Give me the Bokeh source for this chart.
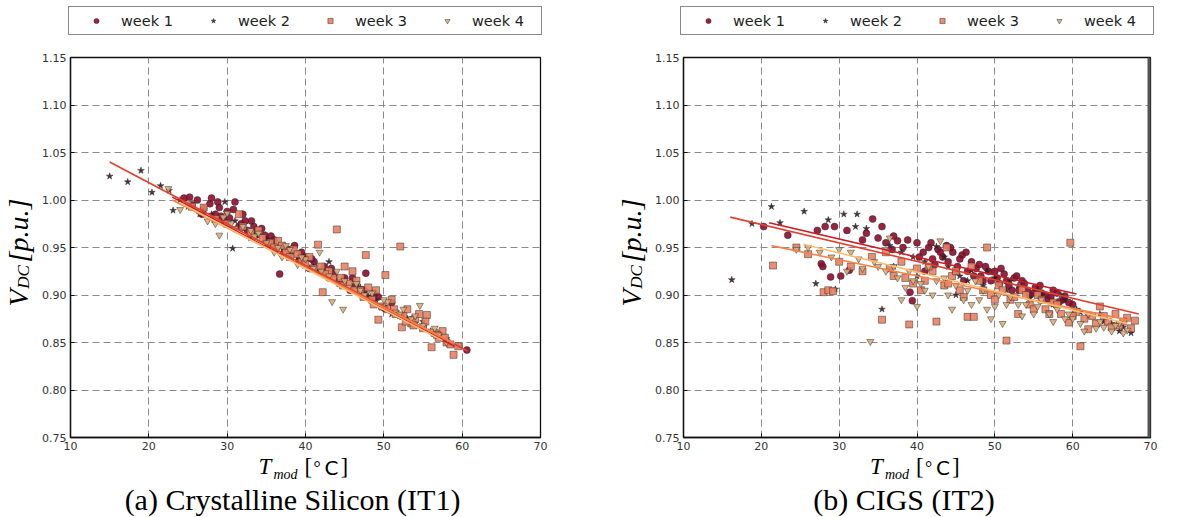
from math import pi

from bokeh.core.properties import value
from bokeh.embed import file_html
from bokeh.layouts import column, row
from bokeh.models import (FixedTicker, Legend, LegendItem, PrintfTickFormatter,
                          Range1d, Span)
from bokeh.plotting import figure
from bokeh.resources import INLINE

weeks = ["week 1", "week 2", "week 3", "week 4"]
x_ticks = [10, 20, 30, 40, 50, 60, 70]
y_ticks = [0.75, 0.80, 0.85, 0.90, 0.95, 1.00, 1.05, 1.10, 1.15]
captions = ["(a) Crystalline Silicon (IT1)", "(b) CIGS (IT2)"]

# (a) crystalline silicon, T_mod [C] and V_DC [p.u.] per week
si_w1_t = [24.5, 25.5, 26.2, 27.0, 27.8, 28.0, 28.5, 29.0, 29.6, 30.3, 30.8, 31.0, 31.5, 32.0, 32.6, 33.1,
           33.8, 34.4, 35.0, 35.6, 36.2, 36.7, 37.3, 38.0, 38.6, 39.2, 39.9, 40.5, 41.1, 41.8, 42.4, 43.0,
           43.6, 44.3, 45.0, 45.7, 46.4, 47.2, 47.7, 48.5, 49.3, 50.1, 51.0, 52.2, 53.5, 55.0, 56.4, 60.6,
           26.8, 28.8, 30.0, 31.8, 33.4, 34.8, 36.0, 37.8, 39.5, 40.8, 42.0, 43.3, 44.8, 46.0, 47.5, 48.8,
           25.2, 29.2, 32.3, 35.3]
si_w1_v = [1.002, 0.995, 1.000, 0.991, 0.996, 1.002, 0.985, 0.992, 0.978, 0.981, 0.990, 0.998, 0.972, 0.985,
           0.968, 0.978, 0.965, 0.970, 0.958, 0.962, 0.948, 0.922, 0.950, 0.944, 0.952, 0.936, 0.940, 0.928,
           0.935, 0.924, 0.930, 0.918, 0.922, 0.912, 0.918, 0.905, 0.910, 0.900, 0.923, 0.895, 0.898, 0.886,
           0.892, 0.878, 0.874, 0.866, 0.860, 0.842,
           0.985, 0.998, 0.988, 0.975, 0.972, 0.963, 0.958, 0.948, 0.945, 0.938, 0.925, 0.928, 0.915, 0.918,
           0.905, 0.902, 1.003, 0.983, 0.978, 0.952]
si_w2_t = [15.0, 17.3, 19.0, 20.4, 21.5, 22.6, 23.1, 24.0, 25.0, 26.5, 28.0, 29.7, 30.7, 32.0, 33.0, 34.0,
           36.0, 37.0, 38.0, 40.0, 42.0, 43.0, 44.0, 46.0, 47.0, 48.0, 50.0, 51.0, 52.0, 54.0, 55.0, 56.0,
           58.0, 59.5, 27.0, 31.0, 35.0, 39.0, 41.0, 45.0, 49.0, 53.0, 57.0]
si_w2_v = [1.025, 1.019, 1.031, 1.008, 1.015, 1.010, 0.989, 1.000, 0.993, 0.985, 0.985, 0.998, 0.949, 0.970,
           0.960, 0.962, 0.951, 0.945, 0.942, 0.935, 0.925, 0.935, 0.915, 0.906, 0.908, 0.899, 0.888, 0.880,
           0.878, 0.870, 0.872, 0.862, 0.854, 0.846, 0.990, 0.978, 0.958, 0.940, 0.930, 0.912, 0.895, 0.875,
           0.858]
si_w3_t = [25.5, 27.0, 28.5, 30.0, 31.5, 33.0, 34.5, 35.5, 36.5, 37.5, 38.5, 39.5, 40.5, 41.6, 42.0, 42.2,
           43.0, 44.0, 44.5, 45.0, 45.5, 46.0, 46.5, 47.0, 47.7, 48.0, 48.5, 49.0, 49.3, 50.2, 50.5, 51.0,
           51.5, 52.1, 52.3, 52.5, 53.0, 53.5, 54.0, 54.5, 55.0, 55.5, 56.1, 56.5, 57.0, 57.5, 58.0, 58.9, 59.5,
           32.0, 34.0, 36.0, 37.0, 38.0, 39.0, 40.0, 41.0, 42.5, 43.5, 44.8, 46.2, 47.4, 48.7, 49.8, 51.3,
           52.8, 53.8, 55.3, 56.8, 57.8, 58.5]
si_w3_v = [0.993, 0.992, 0.980, 0.975, 0.985, 0.965, 0.960, 0.955, 0.957, 0.945, 0.948, 0.935, 0.940, 0.953,
           0.930, 0.903, 0.925, 0.969, 0.918, 0.930, 0.912, 0.925, 0.915, 0.905, 0.942, 0.908, 0.895, 0.905,
           0.874, 0.921, 0.885, 0.895, 0.880, 0.951, 0.866, 0.878, 0.885, 0.870, 0.875, 0.880, 0.865, 0.879,
           0.845, 0.860, 0.855, 0.862, 0.850, 0.837, 0.846,
           0.972, 0.968, 0.950, 0.952, 0.940, 0.943, 0.932, 0.928, 0.922, 0.918, 0.910, 0.905, 0.898, 0.890,
           0.888, 0.885, 0.872, 0.868, 0.872, 0.858, 0.855, 0.848]
si_w4_t = [22.5, 24.0, 25.0, 26.5, 27.5, 28.5, 29.0, 29.5, 30.0, 31.0, 32.0, 33.5, 34.0, 35.0, 36.0, 37.0,
           37.5, 38.0, 39.0, 40.0, 41.0, 41.8, 43.0, 43.4, 44.0, 44.8, 45.5, 46.5, 47.5, 48.5, 49.5, 50.5,
           51.5, 52.5, 53.5, 54.6, 55.0, 56.0, 57.0, 58.0,
           30.5, 33.0, 36.5, 39.5, 42.0, 45.0, 47.0, 50.0, 52.0, 54.0, 56.5]
si_w4_v = [1.012, 0.990, 0.996, 0.988, 0.978, 0.975, 0.963, 0.982, 0.986, 0.970, 0.972, 0.962, 0.965, 0.955,
           0.945, 0.940, 0.952, 0.948, 0.932, 0.938, 0.928, 0.945, 0.920, 0.893, 0.925, 0.885, 0.908, 0.912,
           0.900, 0.902, 0.888, 0.893, 0.882, 0.885, 0.875, 0.889, 0.868, 0.862, 0.858, 0.850,
           0.975, 0.968, 0.950, 0.940, 0.925, 0.915, 0.905, 0.895, 0.880, 0.878, 0.865]
# fitted lines per week: start / end
si_fit_t0 = [23.0, 15.0, 23.0, 24.0]
si_fit_t1 = [59.0, 60.7, 59.0, 57.5]
si_fit_v0 = [1.003, 1.040, 1.000, 0.997]
si_fit_v1 = [0.846, 0.841, 0.849, 0.852]

# (b) CIGS
cigs_w1_t = [20.3, 23.4, 27.2, 27.7, 27.9, 28.2, 28.9, 29.4, 30.2, 31.0, 31.3, 33.0, 34.3, 35.0, 36.0, 36.8,
             37.5, 38.2, 39.1, 39.4, 40.0, 40.8, 41.0, 41.5, 42.0, 42.7, 43.3, 43.8, 44.0, 44.6, 45.2, 45.8,
             46.0, 46.5, 47.0, 47.6, 48.2, 48.8, 49.5, 50.0, 50.6, 51.2, 51.8, 52.5, 53.1, 53.8, 54.5, 55.2,
             56.0, 56.8, 57.5, 58.3, 59.0, 60.0,
             40.3, 41.8, 42.3, 43.0, 44.3, 45.0, 45.5, 46.3, 47.3, 48.0, 48.5, 49.2, 50.3, 50.8, 51.5, 52.2,
             52.8, 53.5, 54.2, 55.0, 55.8, 56.5, 57.2, 58.0, 58.8, 59.5, 33.5, 35.5, 37.0, 38.8]
cigs_w1_v = [0.972, 0.963, 0.968, 0.933, 0.930, 0.972, 0.919, 0.972, 0.920, 0.968, 0.926, 0.958, 0.980, 0.960,
             0.955, 0.948, 0.957, 0.950, 0.903, 0.894, 0.955, 0.945, 0.925, 0.950, 0.938, 0.948, 0.940, 0.952,
             0.935, 0.945, 0.930, 0.942, 0.915, 0.925, 0.935, 0.928, 0.920, 0.930, 0.915, 0.925, 0.912, 0.922,
             0.910, 0.918, 0.905, 0.912, 0.900, 0.908, 0.902, 0.896, 0.905, 0.893, 0.899, 0.890,
             0.940, 0.955, 0.932, 0.945, 0.950, 0.925, 0.938, 0.945, 0.920, 0.932, 0.915, 0.925, 0.918, 0.928,
             0.915, 0.905, 0.920, 0.915, 0.905, 0.902, 0.910, 0.900, 0.898, 0.902, 0.895, 0.892, 0.965, 0.972,
             0.962, 0.958]
cigs_w2_t = [16.2, 18.8, 21.3, 22.4, 25.5, 27.0, 28.6, 29.5, 30.6, 32.1, 32.3, 33.5, 35.5, 36.5, 37.0, 38.0,
             39.5, 41.0, 42.5, 44.0, 45.0, 45.5, 47.0, 48.5, 50.0, 51.5, 53.0, 54.5, 56.0, 57.5, 59.0, 60.5,
             62.0, 63.5, 65.0, 66.5, 67.5, 40.0, 43.5, 46.5, 49.0, 52.0, 55.5, 58.5, 61.0, 64.0, 66.0]
cigs_w2_v = [0.916, 0.975, 0.993, 0.976, 0.988, 0.912, 0.979, 0.906, 0.985, 0.972, 0.985, 0.970, 0.885, 0.952,
             0.930, 0.945, 0.940, 0.935, 0.951, 0.930, 0.900, 0.920, 0.926, 0.910, 0.918, 0.905, 0.910, 0.897,
             0.900, 0.890, 0.895, 0.885, 0.878, 0.880, 0.870, 0.866, 0.860, 0.920, 0.940, 0.915, 0.925, 0.915,
             0.905, 0.900, 0.882, 0.872, 0.862]
cigs_w3_t = [21.5, 24.5, 26.0, 28.0, 28.6, 29.2, 30.0, 31.5, 33.0, 34.2, 35.5, 36.0, 37.0, 38.0, 39.0, 39.5,
             40.0, 41.0, 42.0, 42.5, 43.5, 43.8, 44.5, 45.5, 46.5, 47.0, 47.3, 48.0, 49.0, 49.5, 50.5, 51.5,
             52.0, 53.0, 53.5, 54.5, 55.5, 56.5, 57.5, 58.5, 59.5, 59.7, 60.5, 61.0, 62.0, 62.5, 63.5, 64.5,
             65.5, 66.0, 67.0, 68.0,
             36.5, 38.5, 40.5, 41.5, 44.0, 45.0, 46.0, 48.5, 50.0, 51.0, 52.5, 54.0, 55.0, 56.0, 57.0, 58.0,
             60.0, 61.5, 63.0, 64.0, 65.0, 66.5, 67.5]
cigs_w3_v = [0.931, 0.950, 0.943, 0.903, 0.905, 0.904, 0.935, 0.930, 0.925, 0.940, 0.874, 0.945, 0.920, 0.935,
             0.869, 0.912, 0.928, 0.915, 0.925, 0.872, 0.910, 0.950, 0.920, 0.905, 0.877, 0.930, 0.877, 0.915,
             0.950, 0.900, 0.910, 0.852, 0.895, 0.880, 0.905, 0.890, 0.900, 0.885, 0.892, 0.880, 0.871, 0.955,
             0.882, 0.846, 0.864, 0.878, 0.888, 0.872, 0.880, 0.868, 0.876, 0.873,
             0.928, 0.918, 0.905, 0.930, 0.912, 0.925, 0.898, 0.905, 0.895, 0.905, 0.898, 0.900, 0.885, 0.895,
             0.880, 0.890, 0.878, 0.875, 0.870, 0.878, 0.866, 0.872, 0.865]
cigs_w4_t = [24.5, 26.0, 27.5, 29.0, 30.0, 31.0, 32.5, 33.0, 34.0, 35.0, 36.0, 36.5, 37.5, 38.0, 38.5, 39.0,
             40.0, 40.5, 41.5, 42.0, 43.0, 43.5, 44.5, 45.0, 46.0, 47.0, 47.5, 48.5, 49.5, 50.0, 50.5, 51.0,
             52.0, 53.0, 54.0, 55.0, 56.0, 57.0, 58.0, 59.0, 60.0, 61.0, 62.0, 63.0, 64.0, 65.0, 66.0, 67.0,
             31.5, 34.5, 37.0, 39.5, 41.0, 42.5, 44.0, 46.5, 48.0, 49.0, 51.5, 53.5, 55.5, 57.5, 59.5, 61.5,
             63.5, 65.5, 66.5]
cigs_w4_v = [0.948, 0.950, 0.945, 0.940, 0.948, 0.925, 0.938, 0.928, 0.851, 0.930, 0.925, 0.960, 0.918, 0.895,
             0.908, 0.925, 0.888, 0.912, 0.930, 0.900, 0.957, 0.918, 0.885, 0.910, 0.895, 0.890, 0.915, 0.905,
             0.875, 0.888, 0.900, 0.870, 0.898, 0.890, 0.890, 0.880, 0.895, 0.880, 0.885, 0.875, 0.875, 0.870,
             0.880, 0.865, 0.866, 0.862, 0.870, 0.863,
             0.945, 0.935, 0.930, 0.915, 0.905, 0.915, 0.900, 0.905, 0.895, 0.885, 0.890, 0.878, 0.888, 0.872,
             0.880, 0.862, 0.872, 0.868, 0.860]
cigs_fit_t0 = [21.0, 16.0, 21.3, 25.4]
cigs_fit_t1 = [60.5, 68.5, 67.5, 67.0]
cigs_fit_v0 = [0.976, 0.982, 0.952, 0.9535]
cigs_fit_v1 = [0.901, 0.880, 0.873, 0.870]

markers = ["circle", "star", "square", "inverted_triangle"]
fills = ["#8e0b2c", "#3a1c22", "#ea8160", "#dbad78"]
fit_colors = ["#c81d25", "#e3402f", "#f7834a", "#fdbf6f"]

SERIF = "Liberation Serif"
LEG_H = 49       # legend strip
MID_H = 406      # plot row
BOT_H = 62       # axis label + caption strip


def blank_fig(w, h, x_range=None, y_range=None):
    # pixel-coordinate canvas for the legend, the math labels and captions
    p = figure(width=w, height=h, title=None, output_backend="svg", toolbar_location=None,
               x_range=x_range or Range1d(0, w), y_range=y_range or Range1d(0, h),
               x_axis_type=None, y_axis_type=None, min_border=0,
               min_border_left=0, min_border_right=0, min_border_top=0, min_border_bottom=0)
    p.outline_line_color = None
    p.background_fill_color = "white"
    p.border_fill_color = "white"
    return p


def put(p, x, y, txt, size, style="italic", font=SERIF, angle=0.0, align="left"):
    p.text(x=[x], y=[y], text=[txt], angle=angle, text_font=value(font),
           text_font_style=style, text_font_size=size, text_color="black",
           text_align=align, text_baseline="alphabetic")


def legend_fig(w, ts, vs, legend_x):
    # the week markers are drawn here again only for the legend; the ranges keep them off screen
    p = blank_fig(w, LEG_H, x_range=Range1d(0, 1), y_range=Range1d(0, 0.1))
    rends = []
    for i in range(4):
        rends.append(p.scatter(ts[i], vs[i], marker=markers[i], size=7,
                               fill_color=fills[i], fill_alpha=0.9,
                               line_color="#2b2b2b", line_width=0.6, line_alpha=0.8))
    legend = Legend(items=[LegendItem(label=weeks[i], renderers=[rends[i]]) for i in range(4)],
                    orientation="horizontal", location=(legend_x, 14),
                    padding=5, spacing=6, margin=0,
                    glyph_width=44, glyph_height=13, label_width=64, label_height=17,
                    label_standoff=3, label_text_font="DejaVu Sans",
                    label_text_font_size="14.5px", label_text_color="#222222",
                    border_line_color="#111111", border_line_width=1.5,
                    background_fill_color="white", background_fill_alpha=1.0)
    p.add_layout(legend)
    return p


def ylabel_fig(w, base_x):
    p = blank_fig(w, MID_H)
    put(p, base_x - 7, 140, "V", "28px", angle=pi / 2)
    put(p, base_x - 2, 159, "DC", "17px", angle=pi / 2)
    put(p, base_x - 7, 187, "[p.u.]", "28px", angle=pi / 2)
    return p


def bottom_fig(w, c, caption):
    p = blank_fig(w, BOT_H)
    put(p, c - 47, 51, "T", "23px")
    put(p, c - 32, 43, "mod", "14px")
    put(p, c - 1, 51, "[", "23px", style="normal")
    put(p, c + 8, 50, "°", "18px", style="normal")
    put(p, c + 19, 50, "C", "20px", style="normal", font="DejaVu Sans")
    put(p, c + 35, 51, "]", "23px", style="normal")
    put(p, c - 13, 18, caption, "30px", style="normal", align="center")
    return p


def main_fig(ts, vs, fit_t0, fit_t1, fit_v0, fit_v1, w, left, right, thick_edge=False):
    p = figure(width=w, height=MID_H, title=None, output_backend="svg", toolbar_location=None,
               x_range=Range1d(10, 70), y_range=Range1d(0.75, 1.15),
               min_border_left=left, min_border_right=right,
               min_border_top=8, min_border_bottom=18)
    p.background_fill_color = "white"
    p.border_fill_color = "white"
    p.outline_line_color = "#111111"
    p.outline_line_width = 1.3

    for ax, ticks in ((p.xaxis[0], x_ticks), (p.yaxis[0], y_ticks)):
        ax.ticker = FixedTicker(ticks=ticks)
        ax.major_tick_in = 4
        ax.major_tick_out = 0
        ax.major_tick_line_color = "#111111"
        ax.minor_tick_line_color = None
        ax.axis_line_color = "#111111"
        ax.axis_line_width = 1.3
        ax.major_label_text_font = "DejaVu Sans"
        ax.major_label_text_font_size = "11px"
        ax.major_label_text_color = "#333333"
        ax.major_label_standoff = 4
    p.yaxis[0].formatter = PrintfTickFormatter(format="%.2f")

    p.grid.grid_line_color = "#8a8a8a"
    p.grid.grid_line_dash = "7 4"
    p.grid.grid_line_width = 1

    for i in range(4):
        p.scatter(ts[i], vs[i], marker=markers[i], size=7,
                  fill_color=fills[i], fill_alpha=0.9,
                  line_color="#2b2b2b", line_width=0.6, line_alpha=0.8)
    for i in range(4):
        p.line([fit_t0[i], fit_t1[i]], [fit_v0[i], fit_v1[i]],
               line_color=fit_colors[i], line_width=1.6)

    if thick_edge:
        p.add_layout(Span(location=70, dimension="height", line_color="#555555", line_width=6))
    return p


si_t = [si_w1_t, si_w2_t, si_w3_t, si_w4_t]
si_v = [si_w1_v, si_w2_v, si_w3_v, si_w4_v]
cigs_t = [cigs_w1_t, cigs_w2_t, cigs_w3_t, cigs_w4_t]
cigs_v = [cigs_w1_v, cigs_w2_v, cigs_w3_v, cigs_w4_v]

left_panel = column(
    legend_fig(588, si_t, si_v, 68),
    row(ylabel_fig(36, 25), main_fig(si_t, si_v, si_fit_t0, si_fit_t1, si_fit_v0, si_fit_v1, 552, 34, 48)),
    bottom_fig(588, 305, captions[0]))
right_panel = column(
    legend_fig(580, cigs_t, cigs_v, 92),
    row(ylabel_fig(60, 50), main_fig(cigs_t, cigs_v, cigs_fit_t0, cigs_fit_t1, cigs_fit_v0, cigs_fit_v1,
                                     520, 35, 18, thick_edge=True)),
    bottom_fig(580, 328.5, captions[1]))

layout = row(left_panel, right_panel)
open("out.html", "w").write(file_html(layout, INLINE, title="VDC vs Tmod"))
